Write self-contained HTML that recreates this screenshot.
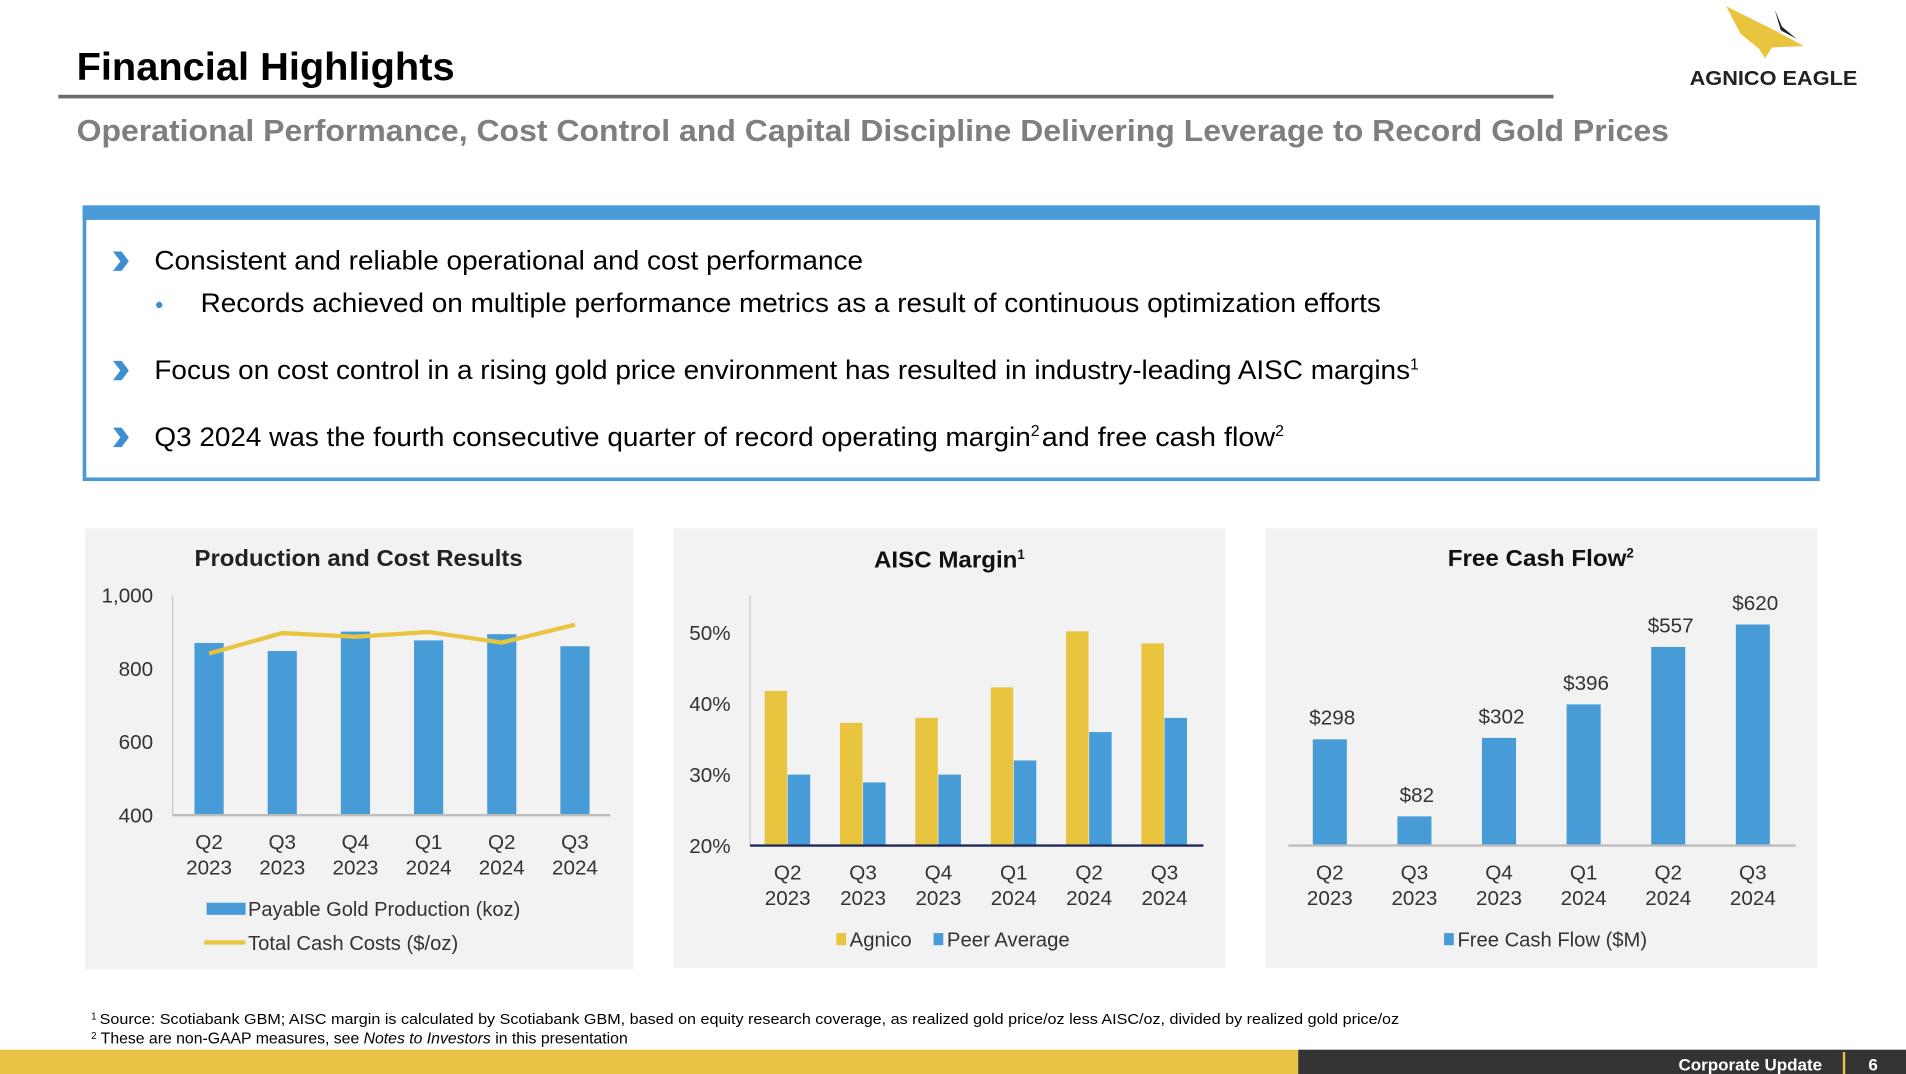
<!DOCTYPE html>
<html><head><meta charset="utf-8"><style>
html,body{margin:0;padding:0;background:#fff;}
svg{display:block;font-family:"Liberation Sans",Arial,sans-serif;}
</style></head><body>
<svg id="slide" width="1906" height="1074" viewBox="0 0 1568 884" preserveAspectRatio="none" xmlns="http://www.w3.org/2000/svg">
<text x="63" y="66" font-size="32" font-weight="bold" fill="#000" textLength="311" lengthAdjust="spacingAndGlyphs">Financial Highlights</text>
<rect x="48" y="78" width="1230" height="3" fill="#6b6b6b"/>
<text x="63" y="116" font-size="25" font-weight="bold" fill="#7f7f7f" textLength="1310" lengthAdjust="spacingAndGlyphs">Operational Performance, Cost Control and Capital Discipline Delivering Leverage to Record Gold Prices</text>
<g>
<polygon points="1420,5 1462,26 1484,38 1458,39 1452,48 1447,40 1432,28" fill="#e9c43f"/>
<polygon points="1460,8 1466,22 1478,32 1465,25" fill="#222"/>
<text x="1459" y="70" font-size="17" font-weight="bold" fill="#222" text-anchor="middle" textLength="138" lengthAdjust="spacingAndGlyphs">AGNICO EAGLE</text>
</g>
<g>
<rect x="69.5" y="171" width="1426" height="223.5" fill="#fff" stroke="#4a9ad8" stroke-width="3"/>
<rect x="68" y="169" width="1429" height="12" fill="#4a9ad8"/>
</g>
<g font-size="22" fill="#000">
<polygon points="93,207 100,207 106,215 100,223 93,223 99,215" fill="#3d8fd2"/>
<text x="127" y="222" textLength="583" lengthAdjust="spacingAndGlyphs">Consistent and reliable operational and cost performance</text>
<circle cx="131" cy="251" r="2.6" fill="#3d8fd2"/>
<text x="165" y="257" textLength="971" lengthAdjust="spacingAndGlyphs">Records achieved on multiple performance metrics as a result of continuous optimization efforts</text>
<polygon points="93,297 100,297 106,305 100,313 93,313 99,305" fill="#3d8fd2"/>
<text x="127" y="312"><tspan textLength="1033" lengthAdjust="spacingAndGlyphs">Focus on cost control in a rising gold price environment has resulted in industry-leading AISC margins</tspan><tspan font-size="13" dy="-8">1</tspan></text>
<polygon points="93,352 100,352 106,360 100,368 93,368 99,360" fill="#3d8fd2"/>
<text x="127" y="367"><tspan textLength="721" lengthAdjust="spacingAndGlyphs">Q3 2024 was the fourth consecutive quarter of record operating margin</tspan><tspan font-size="13" dy="-8">2</tspan><tspan dy="8" x="857" textLength="192" lengthAdjust="spacingAndGlyphs">and free cash flow</tspan><tspan font-size="13" dy="-8">2</tspan></text>
</g>
<rect x="70" y="435" width="451" height="363" fill="#f2f2f2"/>
<rect x="554" y="435" width="454" height="362" fill="#f2f2f2"/>
<rect x="1041" y="435" width="454" height="362" fill="#f2f2f2"/>
<text x="295" y="466" font-size="19" font-weight="bold" text-anchor="middle" fill="#222" textLength="270" lengthAdjust="spacingAndGlyphs">Production and Cost Results</text>
<text x="719" y="467" font-size="19" font-weight="bold" fill="#111"><tspan textLength="118" lengthAdjust="spacingAndGlyphs">AISC Margin</tspan><tspan font-size="11" dy="-7">1</tspan></text>
<text x="1191" y="466" font-size="19" font-weight="bold" fill="#111"><tspan textLength="147" lengthAdjust="spacingAndGlyphs">Free Cash Flow</tspan><tspan font-size="11" dy="-7">2</tspan></text>
<g id="charts"></g>
<text x="75" y="843" font-size="12.3" fill="#000"><tspan font-size="8" dy="-4">1</tspan><tspan dy="4" x="82" textLength="1069" lengthAdjust="spacingAndGlyphs">Source: Scotiabank GBM; AISC margin is calculated by Scotiabank GBM, based on equity research coverage, as realized gold price/oz less AISC/oz, divided by realized gold price/oz</tspan></text>
<text x="75" y="859" font-size="13" fill="#000"><tspan font-size="8" dy="-4">2</tspan><tspan dy="4"> These are non-GAAP measures, see </tspan><tspan font-style="italic">Notes to Investors</tspan><tspan> in this presentation</tspan></text>
<rect x="0" y="864" width="1068" height="20" fill="#e8c242"/>
<rect x="1068" y="864" width="500" height="20" fill="#333"/>
<text x="1499" y="881" font-size="14" font-weight="bold" fill="#fff" text-anchor="end">Corporate Update</text>
<rect x="1516" y="866" width="2" height="18" fill="#e8c242"/>
<text x="1541" y="881" font-size="14" font-weight="bold" fill="#fff" text-anchor="middle">6</text>
</svg>
<script>
const quarters = ["Q2","Q3","Q4","Q1","Q2","Q3"];
const years = ["2023","2023","2023","2024","2024","2024"];
const productionKoz = [870, 848, 901, 877, 894, 861];
const cashCosts = [841, 897, 887, 900, 871, 920];
const prodTicks = [400, 600, 800, 1000];
const prodTickLabels = ["400","600","800","1,000"];
const aiscAgnico = [41.8, 37.3, 38.0, 42.3, 50.2, 48.5];
const aiscPeer = [30.0, 28.9, 30.0, 32.0, 36.0, 38.0];
const aiscTicks = [20, 30, 40, 50];
const aiscTickLabels = ["20%","30%","40%","50%"];
const fcfValues = [298, 82, 302, 396, 557, 620];
const fcfLabels = ["$298","$82","$302","$396","$557","$620"];

const NS = "http://www.w3.org/2000/svg";
const root = document.getElementById("charts");
const BLUE = "#479cd8", GOLD = "#e9c43f";
function mk(tag, attrs, parent){
  const e = document.createElementNS(NS, tag);
  for (const k in attrs) e.setAttribute(k, attrs[k]);
  (parent||root).appendChild(e); return e;
}
function txt(s, attrs){ const t = mk("text", attrs); t.textContent = s; return t; }

// Production chart
const pY = v => 671 - (v - 400) / 600 * 181;
const pX = i => 172 + i * 60.2;
let e;
e = mk("line",{x1:142,y1:490,x2:142,y2:671,stroke:"#c8c8c8","stroke-width":1});
 
prodTicks.forEach((t,i)=>{
  e = txt(prodTickLabels[i],{x:126,y:pY(t)+6,"font-size":17,"text-anchor":"end",fill:"#333"});
   
});
productionKoz.forEach((v,i)=>{
  e = mk("rect",{x:pX(i)-12,y:pY(v),width:24,height:671-pY(v),fill:BLUE});
   
});
e = mk("line",{x1:142,y1:671,x2:502,y2:671,stroke:"#bdbdbd","stroke-width":2});
 
e = mk("polyline",{points:cashCosts.map((v,i)=>pX(i)+","+pY(v)).join(" "),fill:"none",stroke:GOLD,"stroke-width":3.5});
 
quarters.forEach((q,i)=>{
  e = txt(q,{x:pX(i),y:699,"font-size":17,"text-anchor":"middle",fill:"#333"});
   
  e = txt(years[i],{x:pX(i),y:720,"font-size":17,"text-anchor":"middle",fill:"#333"});
   
});
e = mk("rect",{x:170,y:743,width:32,height:10,fill:BLUE});
 
e = txt("Payable Gold Production (koz)",{x:204,y:754,"font-size":16.5,fill:"#333",textLength:224,lengthAdjust:"spacingAndGlyphs"});
 
e = mk("rect",{x:168,y:774,width:34,height:3.5,fill:GOLD});
 
e = txt("Total Cash Costs ($/oz)",{x:204,y:782,"font-size":16.5,fill:"#333",textLength:173,lengthAdjust:"spacingAndGlyphs"});
 

// AISC chart
const aY = v => 696 - (v - 20) / 10 * 58.4;
const aX = i => 648 + i * 62;
e = mk("line",{x1:617,y1:490,x2:617,y2:696,stroke:"#c8c8c8","stroke-width":1});
 
aiscTicks.forEach((t,i)=>{
  e = txt(aiscTickLabels[i],{x:601,y:aY(t)+6,"font-size":17,"text-anchor":"end",fill:"#333"});
   
});
aiscAgnico.forEach((v,i)=>{
  e = mk("rect",{x:aX(i)-19,y:aY(v),width:18.5,height:696-aY(v),fill:GOLD});
   
});
aiscPeer.forEach((v,i)=>{
  e = mk("rect",{x:aX(i),y:aY(v),width:18.5,height:696-aY(v),fill:BLUE});
   
});
e = mk("line",{x1:617,y1:696,x2:990,y2:696,stroke:"#1f2a5a","stroke-width":2});
 
quarters.forEach((q,i)=>{
  e = txt(q,{x:aX(i),y:724,"font-size":17,"text-anchor":"middle",fill:"#333"});
   
  e = txt(years[i],{x:aX(i),y:745,"font-size":17,"text-anchor":"middle",fill:"#333"});
   
});
e = mk("rect",{x:688,y:768,width:8,height:10,fill:GOLD});
 
e = txt("Agnico",{x:699,y:779,"font-size":16.5,fill:"#333",textLength:51,lengthAdjust:"spacingAndGlyphs"});
 
e = mk("rect",{x:768,y:768,width:8,height:10,fill:BLUE});
 
e = txt("Peer Average",{x:779,y:779,"font-size":16.5,fill:"#333",textLength:101,lengthAdjust:"spacingAndGlyphs"});
 

// FCF chart
const fY = v => 696 - v * 0.2935;
const fX = i => 1094 + i * 69.6;
fcfValues.forEach((v,i)=>{
  e = mk("rect",{x:fX(i)-14,y:fY(v),width:28,height:696-fY(v),fill:BLUE});
   
  e = txt(fcfLabels[i],{x:fX(i)+2,y:fY(v)-12,"font-size":17,"text-anchor":"middle",fill:"#333"});
   
});
e = mk("line",{x1:1060,y1:696,x2:1477,y2:696,stroke:"#bdbdbd","stroke-width":2});
 
quarters.forEach((q,i)=>{
  e = txt(q,{x:fX(i),y:724,"font-size":17,"text-anchor":"middle",fill:"#333"});
   
  e = txt(years[i],{x:fX(i),y:745,"font-size":17,"text-anchor":"middle",fill:"#333"});
   
});
e = mk("rect",{x:1188,y:768,width:8,height:10,fill:BLUE});
 
e = txt("Free Cash Flow ($M)",{x:1199,y:779,"font-size":16.5,fill:"#333",textLength:156,lengthAdjust:"spacingAndGlyphs"});
 
</script>
</body></html>
